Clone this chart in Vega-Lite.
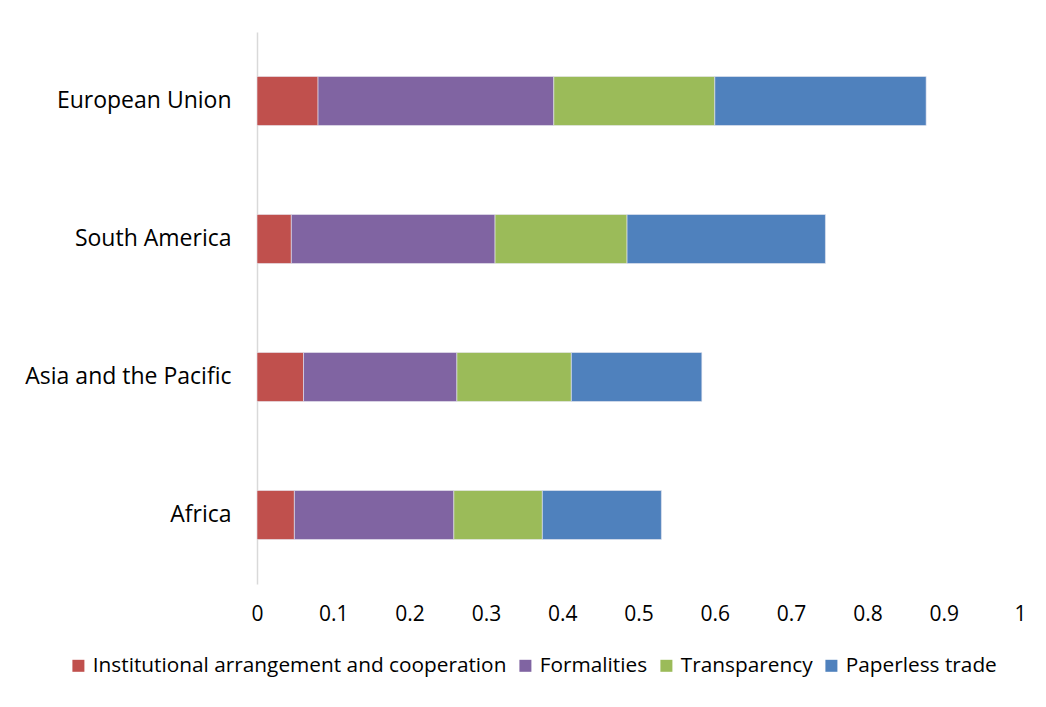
{
  "$schema": "https://vega.github.io/schema/vega-lite/v6.json",
  "autosize": "none",
  "width": 763,
  "height": 552,
  "padding": {"left": 257, "top": 32, "right": 26, "bottom": 123},
  "background": "white",
  "config": {
    "view": {"stroke": null},
    "font": "Open Sans",
    "axis": {"labelFont": "Open Sans", "labelColor": "#000000", "grid": false, "ticks": false, "title": null}
  },
  "data": {
    "values": [
      {"region": "European Union", "category": "Institutional arrangement and cooperation", "k": 1, "value": 0.080},
      {"region": "European Union", "category": "Formalities", "k": 2, "value": 0.309},
      {"region": "European Union", "category": "Transparency", "k": 3, "value": 0.211},
      {"region": "European Union", "category": "Paperless trade", "k": 4, "value": 0.277},
      {"region": "South America", "category": "Institutional arrangement and cooperation", "k": 1, "value": 0.045},
      {"region": "South America", "category": "Formalities", "k": 2, "value": 0.267},
      {"region": "South America", "category": "Transparency", "k": 3, "value": 0.173},
      {"region": "South America", "category": "Paperless trade", "k": 4, "value": 0.260},
      {"region": "Asia and the Pacific", "category": "Institutional arrangement and cooperation", "k": 1, "value": 0.061},
      {"region": "Asia and the Pacific", "category": "Formalities", "k": 2, "value": 0.201},
      {"region": "Asia and the Pacific", "category": "Transparency", "k": 3, "value": 0.150},
      {"region": "Asia and the Pacific", "category": "Paperless trade", "k": 4, "value": 0.171},
      {"region": "Africa", "category": "Institutional arrangement and cooperation", "k": 1, "value": 0.049},
      {"region": "Africa", "category": "Formalities", "k": 2, "value": 0.209},
      {"region": "Africa", "category": "Transparency", "k": 3, "value": 0.116},
      {"region": "Africa", "category": "Paperless trade", "k": 4, "value": 0.156}
    ]
  },
  "mark": {"type": "bar", "stroke": "#e8e8f0", "strokeWidth": 0.6},
  "encoding": {
    "y": {
      "field": "region", "type": "nominal",
      "sort": ["European Union", "South America", "Asia and the Pacific", "Africa"],
      "scale": {"paddingInner": 0.645, "paddingOuter": 0.3225},
      "axis": {"domainColor": "#d9d9d9", "domainWidth": 1.5, "labelFontSize": 23, "labelPadding": 26, "labelLimit": 400}
    },
    "x": {
      "field": "value", "type": "quantitative", "aggregate": "sum", "stack": "zero",
      "scale": {"domain": [0, 1], "nice": false},
      "axis": {"values": [0, 0.1, 0.2, 0.3, 0.4, 0.5, 0.6, 0.7, 0.8, 0.9, 1], "format": "~g", "domain": false, "labelFontSize": 21, "labelPadding": 19, "labelFlush": false}
    },
    "color": {
      "field": "category", "type": "nominal",
      "sort": ["Institutional arrangement and cooperation", "Formalities", "Transparency", "Paperless trade"],
      "scale": {
        "domain": ["Institutional arrangement and cooperation", "Formalities", "Transparency", "Paperless trade"],
        "range": ["#C0504D", "#8064A2", "#9BBB59", "#4F81BD"]
      },
      "legend": {
        "orient": "none", "direction": "horizontal", "title": null,
        "legendX": -189, "legendY": 623,
        "symbolType": "square", "symbolSize": 144, "symbolStrokeWidth": 0,
        "labelFontSize": 20.8, "labelFont": "Open Sans", "labelColor": "#000000",
        "columnPadding": 8, "labelOffset": 4, "labelLimit": 500
      }
    },
    "order": {"field": "k", "type": "quantitative"}
  }
}
